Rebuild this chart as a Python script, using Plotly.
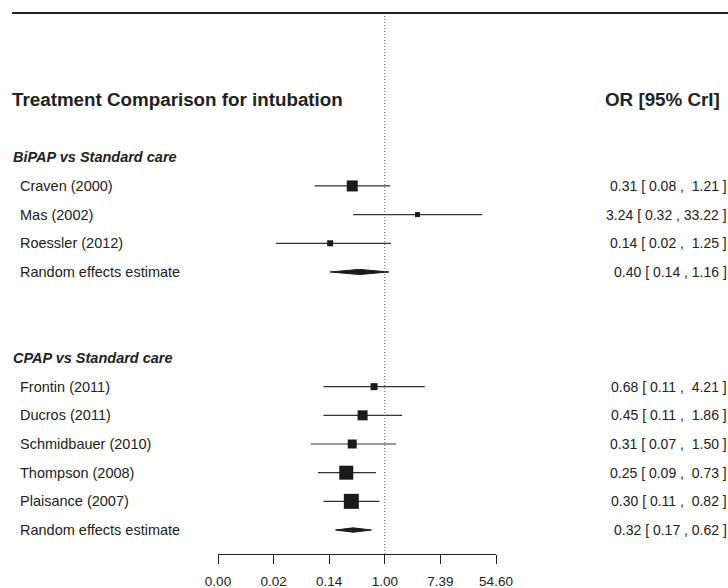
import math
import plotly.graph_objects as go

# ---------------- data ----------------
title_left = "Treatment Comparison for intubation"
title_right = "OR [95% CrI]"

group1 = "BiPAP vs Standard care"
studies1 = ["Craven (2000)", "Mas (2002)", "Roessler (2012)"]
or1 = [0.31, 3.24, 0.14]
lo1 = [0.08, 0.32, 0.02]
hi1 = [1.21, 33.22, 1.25]
re1 = [0.40, 0.14, 1.16]  # estimate, lower, upper

group2 = "CPAP vs Standard care"
studies2 = ["Frontin (2011)", "Ducros (2011)", "Schmidbauer (2010)",
            "Thompson (2008)", "Plaisance (2007)"]
or2 = [0.68, 0.45, 0.31, 0.25, 0.30]
lo2 = [0.11, 0.11, 0.07, 0.09, 0.11]
hi2 = [4.21, 1.86, 1.50, 0.73, 0.82]
re2 = [0.32, 0.17, 0.62]

re_label = "Random effects estimate"

tick_vals_ln = [-6, -4, -2, 0, 2, 4]
tick_text = ["0.00", "0.02", "0.14", "1.00", "7.39", "54.60"]

# ---------------- styles / layout ----------------
FONT = "Liberation Sans, Arial, sans-serif"
TXT = "#222222"
size1 = [11, 5, 6]
size2 = [7, 10, 9, 14, 15]

W, H = 728, 588
ML, MR, MT, MB = 218, 232, 14, 34
PW = W - ML - MR


def px(xpix):
    return (xpix - ML) / PW


# row positions (y grows downward)
rows1 = [3, 4, 5]
rre1 = 6
rows2 = [10, 11, 12, 13, 14]
rre2 = 15


def fmt(e, l, h):
    hs = f"{h:.2f}"
    hs = (" " + hs) if len(hs) == 4 else hs
    return f"{e:.2f} [ {l:.2f} , {hs} ]".replace(" ", "\u00a0")


def fmt_re(e, l, h):
    return f"{e:.2f} [ {l:.2f} , {h:.2f} ]".replace(" ", "\u00a0")


fig = go.Figure()

all_or = or1 + or2
all_lo = lo1 + lo2
all_hi = hi1 + hi2
all_rows = rows1 + rows2
all_sizes = size1 + size2

# CI lines
lx, ly = [], []
for l, h, r in zip(all_lo, all_hi, all_rows):
    lx += [l, h, None]
    ly += [r, r, None]
fig.add_trace(go.Scatter(x=lx, y=ly, mode="lines",
                         line=dict(color="#333333", width=1.2),
                         hoverinfo="skip", showlegend=False))
# point estimates
fig.add_trace(go.Scatter(x=all_or, y=all_rows, mode="markers",
                         marker=dict(symbol="square", size=all_sizes,
                                     color="#1a1a1a", opacity=1,
                                     line=dict(width=0)),
                         showlegend=False))

# diamonds
for re, r, hh in [(re1, rre1, 0.09), (re2, rre2, 0.075)]:
    e, l, h = re
    fig.add_trace(go.Scatter(x=[l, e, h, e, l], y=[r, r - hh, r, r + hh, r],
                             mode="lines", fill="toself", fillcolor="#1a1a1a",
                             line=dict(color="#1a1a1a", width=1),
                             hoverinfo="skip", showlegend=False))

ann = []


def add_text(text, xpix, row, anchor="left", size=14.5, bold=False, italic=False):
    t = text
    if bold:
        t = f"<b>{t}</b>"
    if italic:
        t = f"<i>{t}</i>"
    ann.append(dict(text=t, x=px(xpix), xref="paper", y=row, yref="y",
                    xanchor=anchor, yanchor="middle", showarrow=False,
                    borderpad=0, font=dict(family=FONT, size=size, color=TXT)))


add_text(title_left, 11, 0, size=18.8, bold=True)
add_text(title_right, 721, 0, anchor="right", size=18.8, bold=True)
add_text(group1, 12, 2, size=14.5, bold=True, italic=True)
add_text(group2, 12, 9, size=14.5, bold=True, italic=True)
for s, r in zip(studies1 + studies2, all_rows):
    add_text(s, 19, r, size=14.5)
for e, l, h, r in zip(all_or, all_lo, all_hi, all_rows):
    add_text(fmt(e, l, h), 728, r, anchor="right", size=14)
add_text(re_label, 19, rre1, size=14.5)
add_text(re_label, 19, rre2, size=14.5)
add_text(fmt_re(*re1), 728, rre1, anchor="right", size=14)
add_text(fmt_re(*re2), 728, rre2, anchor="right", size=14)

shapes = [
    dict(type="line", xref="x", yref="paper", x0=1, x1=1, y0=0, y1=1,
         line=dict(color="#555555", width=1, dash="1px,2px")),
    dict(type="line", xref="paper", yref="paper", x0=px(12), x1=px(730),
         y0=1.002, y1=1.002, line=dict(color="#222222", width=2)),
]

r_top = -(100 - MT) / 28.7
r_bot = 15 + (H - MB - 530) / 28.7

fig.update_layout(
    template="none",
    width=W, height=H, autosize=False,
    margin=dict(l=ML, r=MR, t=MT, b=MB, pad=0),
    paper_bgcolor="white", plot_bgcolor="white",
    annotations=ann, shapes=shapes,
    xaxis=dict(type="log", automargin=False,
               range=[tick_vals_ln[0] / math.log(10), tick_vals_ln[-1] / math.log(10)],
               tickvals=[math.exp(v) for v in tick_vals_ln], ticktext=tick_text,
               showline=True, linecolor="#222222", linewidth=1.2,
               ticks="outside", ticklen=9, tickcolor="#222222", tickwidth=1.2,
               ticklabelstandoff=6,
               showgrid=False, zeroline=False,
               tickfont=dict(family=FONT, size=13.5, color=TXT)),
    yaxis=dict(range=[r_bot, r_top], visible=False, showgrid=False,
               zeroline=False, automargin=False),
)

fig.write_html("out.html")
